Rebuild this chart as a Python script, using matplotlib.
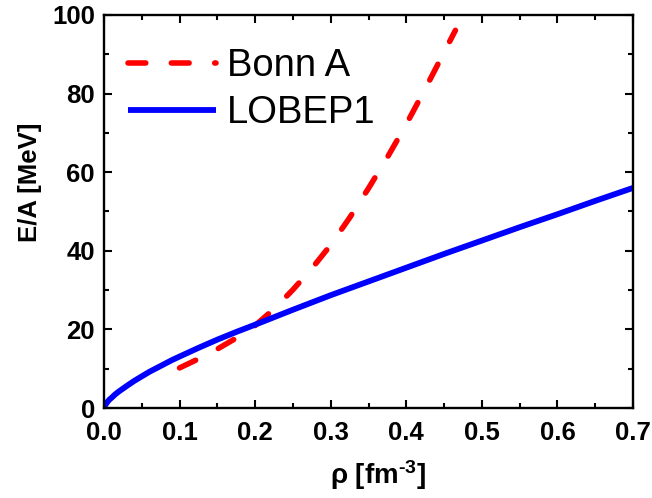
import matplotlib
matplotlib.use("Agg")
import matplotlib.pyplot as plt
from matplotlib.ticker import MultipleLocator

plt.rcParams['font.family'] = ['Liberation Sans', 'DejaVu Sans']
plt.rcParams['mathtext.fontset'] = 'custom'
plt.rcParams['mathtext.rm'] = 'Liberation Sans:bold'
plt.rcParams['mathtext.bf'] = 'Liberation Sans:bold'
plt.rcParams['mathtext.it'] = 'Liberation Sans:bold'

# Data
bonn_rho = [0.10, 0.125, 0.15, 0.175, 0.20, 0.225, 0.25, 0.275, 0.30, 0.325,
            0.35, 0.375, 0.40, 0.425, 0.45, 0.465]
bonn_ea = [10.2, 12.5, 15.0, 17.8, 21.0, 25.2, 30.1, 35.5, 41.5, 48.4,
           55.9, 63.8, 72.2, 81.2, 90.5, 96.1]

lobep_rho = [0.0, 0.001, 0.002, 0.003, 0.005, 0.0075, 0.01, 0.015, 0.02, 0.03,
             0.04, 0.05, 0.06, 0.075, 0.09, 0.10, 0.125, 0.15, 0.175, 0.20,
             0.25, 0.30, 0.35, 0.40, 0.45, 0.50, 0.55, 0.60, 0.65, 0.70]
lobep_ea = [0.0, 0.52, 0.85, 1.12, 1.66, 2.2, 2.6, 3.5, 4.25, 5.6,
            6.9, 8.05, 9.2, 10.7, 12.2, 13.1, 15.3, 17.4, 19.35, 21.2,
            25.0, 28.7, 32.2, 35.7, 39.2, 42.6, 46.0, 49.3, 52.7, 56.0]

xticks = [0.0, 0.1, 0.2, 0.3, 0.4, 0.5, 0.6, 0.7]
xtick_labels = ['0.0', '0.1', '0.2', '0.3', '0.4', '0.5', '0.6', '0.7']
yticks = [0, 20, 40, 60, 80, 100]
ytick_labels = ['0', '20', '40', '60', '80', '100']

fig = plt.figure(figsize=(6.52, 4.98), dpi=100)
ax = fig.add_axes([104/652, 1-408/498, (633-104)/652, (408-15)/498])

ax.plot(bonn_rho, bonn_ea, color='#FF0000', lw=4.0, linestyle=(0, (3.2, 4.6)),
        dash_capstyle='round', label='Bonn A')
ax.plot(lobep_rho, lobep_ea, color='#0000FF', lw=4.2, solid_capstyle='butt',
        solid_joinstyle='round', label='LOBEP1')

ax.set_xlim(0, 0.7)
ax.set_ylim(0, 100)
ax.set_xticks(xticks)
ax.set_xticklabels(xtick_labels)
ax.set_yticks(yticks)
ax.set_yticklabels(ytick_labels)
ax.xaxis.set_minor_locator(MultipleLocator(0.05))
ax.yaxis.set_minor_locator(MultipleLocator(10))

for sp in ax.spines.values():
    sp.set_linewidth(1.7)

ax.tick_params(which='both', direction='in', top=True, right=True, width=1.5)
ax.tick_params(which='major', length=6, labelsize=18.5)
ax.tick_params(axis='x', which='major', pad=9)
ax.tick_params(axis='y', which='major', pad=6.5)
ax.tick_params(which='minor', length=3.5)
for lab in ax.get_xticklabels() + ax.get_yticklabels():
    lab.set_fontweight('bold')

ax.set_xlabel('ρ [fm$^{\u2010 3}$]', fontsize=20, fontweight='bold')
ax.xaxis.set_label_coords(0.518, -0.128)
ax.set_ylabel('E/A [MeV]', fontsize=18.5, fontweight='bold')
ax.yaxis.set_label_coords(-0.118, 0.574)

leg = ax.legend(loc='upper left', bbox_to_anchor=(0.045, 0.915), frameon=False,
                fontsize=27.5, handlelength=2.3, handletextpad=0.3,
                labelspacing=0.28, borderpad=0, borderaxespad=0)

fig.savefig('out.png', dpi=100)
